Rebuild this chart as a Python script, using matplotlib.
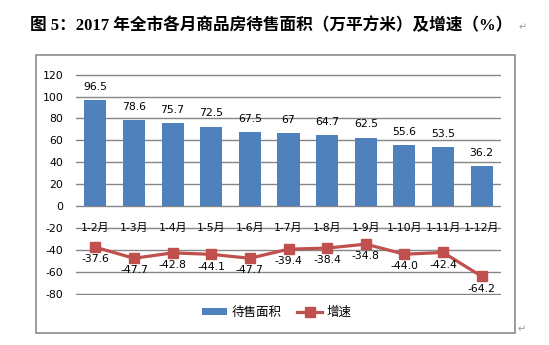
import matplotlib
matplotlib.use("Agg")
import matplotlib.pyplot as plt
from matplotlib.patches import Rectangle
import numpy as np

plt.rcParams['font.family'] = ['DejaVu Sans', 'Noto Sans CJK SC']

months = ["1-2月", "1-3月", "1-4月", "1-5月", "1-6月", "1-7月",
          "1-8月", "1-9月", "1-10月", "1-11月", "1-12月"]
stock_area = [96.5, 78.6, 75.7, 72.5, 67.5, 67, 64.7, 62.5, 55.6, 53.5, 36.2]
stock_labels = ["96.5", "78.6", "75.7", "72.5", "67.5", "67", "64.7",
                "62.5", "55.6", "53.5", "36.2"]
growth = [-37.6, -47.7, -42.8, -44.1, -47.7, -39.4, -38.4, -34.8, -44.0, -42.4, -64.2]
growth_labels = ["-37.6", "-47.7", "-42.8", "-44.1", "-47.7", "-39.4",
                 "-38.4", "-34.8", "-44.0", "-42.4", "-64.2"]
y_ticks = [-80, -60, -40, -20, 0, 20, 40, 60, 80, 100, 120]

bar_color = "#4F81BD"
line_color = "#C0504D"
grid_color = "#868686"

fig = plt.figure(figsize=(5.49, 3.45), dpi=100)
W, H = 549, 345

# title line above the chart box
fig.text(30 / W, 1 - 25.5 / H,
         "图 5：2017 年全市各月商品房待售面积（万平方米）及增速（%）",
         family=['Liberation Serif', 'Noto Sans CJK SC'], weight='bold',
         fontsize=12, ha='left', va='center')
fig.text(519 / W, 1 - 27 / H, "↵", color="#999999", fontsize=7,
         ha='left', va='center')
fig.text(518 / W, 1 - 329 / H, "↵", color="#999999", fontsize=7,
         ha='left', va='center')

# outer chart border
fig.patches.append(Rectangle((35.5 / W, 1 - 333 / H), (515 - 35.5) / W,
                             (333 - 54.5) / H, transform=fig.transFigure,
                             fill=False, edgecolor="#8C8C8C", linewidth=1.2))

ax = fig.add_axes([76 / W, 1 - 294.5 / H, 425 / W, (294.5 - 73.8) / H])
x = np.arange(len(months))

bars = ax.bar(x, stock_area, width=0.57, color=bar_color, label="待售面积", zorder=2)
line, = ax.plot(x, growth, color=line_color, linewidth=2.3, marker='s',
                markersize=6.5, label="增速", zorder=3)

for xi, v, t in zip(x, stock_area, stock_labels):
    ax.annotate(t, (xi, v), xytext=(0, 9.5), textcoords='offset points',
                ha='center', va='center', fontsize=7.8)
for xi, v, t in zip(x, growth, growth_labels):
    ax.annotate(t, (xi, v), xytext=(0, -8.8), textcoords='offset points',
                ha='center', va='center', fontsize=7.8)

# category labels sit just under the zero line
for xi, m in zip(x, months):
    ax.text(xi, -20, m, ha='center', va='center', fontsize=7.8, zorder=4)

ax.set_xlim(-0.5, len(months) - 0.5)
ax.set_ylim(-80.8, 120.8)
ax.set_yticks(y_ticks)
ax.set_yticklabels([str(v) for v in y_ticks], fontsize=7.8)
ax.set_xticks([])
ax.tick_params(axis='y', length=0, pad=9)
ax.yaxis.grid(True, color=grid_color, linewidth=1.0, zorder=0)
ax.set_axisbelow(True)
for s in ax.spines.values():
    s.set_visible(False)

fig.legend([bars, line], ["待售面积", "增速"], loc='center',
           bbox_to_anchor=(277 / W, 1 - 312.5 / H), ncol=2,
           frameon=False, fontsize=9, handlelength=2.0, handleheight=0.5,
           columnspacing=1.2, handletextpad=0.4)

fig.savefig("out.png", dpi=100)
